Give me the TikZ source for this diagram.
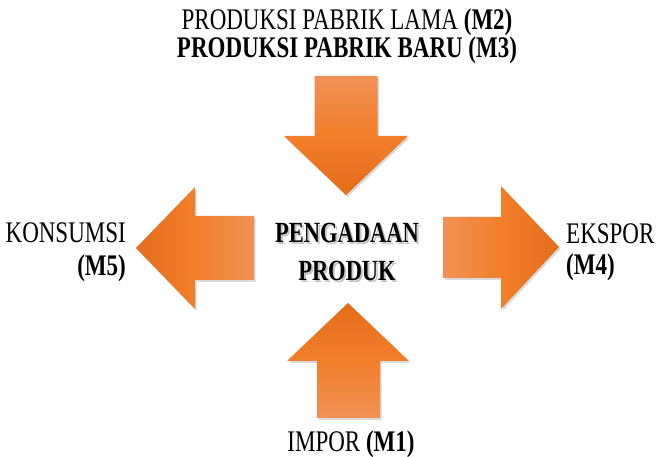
\documentclass[tikz,border=0pt]{standalone}
\usepackage{fontspec}
\setmainfont{Liberation Serif}
\usetikzlibrary{shadows}
\definecolor{olight}{RGB}{241,144,86}
\definecolor{omid}{RGB}{242,127,42}
\definecolor{odark}{RGB}{228,108,26}
\newcommand{\tx}[1]{\scalebox{1}[1.3]{#1}}
\begin{document}
\begin{tikzpicture}[x=1pt,y=-1pt,
  blockarrow/.style={drop shadow={opacity=0.3,shadow xshift=1.5pt,shadow yshift=-2pt}},
  lbl/.style={inner sep=0pt,font=\fontsize{23}{27}\selectfont},
  ctr/.style={inner sep=0pt,font=\fontsize{22.5}{27}\selectfont\bfseries},
  ctrsh/.style={ctr,text=black!50,opacity=0.45}]
\useasboundingbox (0,0) rectangle (657,457);
% down arrow
\path[blockarrow,top color=olight,bottom color=odark,middle color=omid]
  (314.5,76) -- (377.5,76) -- (377.5,136) -- (408,136) -- (346,195) -- (284,136) -- (314.5,136) -- cycle;
% up arrow
\path[blockarrow,bottom color=olight,top color=odark,middle color=omid]
  (317,418) -- (380,418) -- (380,361) -- (409,361) -- (348,303) -- (287,361) -- (317,361) -- cycle;
% left arrow
\path[blockarrow,right color=olight,left color=odark,middle color=omid]
  (254,216) -- (254,280) -- (195,280) -- (195,309) -- (136,248) -- (195,187) -- (195,216) -- cycle;
% right arrow
\path[blockarrow,left color=olight,right color=odark,middle color=omid]
  (443,217) -- (443,278) -- (501,278) -- (501,309) -- (559,247) -- (501,186) -- (501,217) -- cycle;
% labels
\node[lbl,anchor=base] (m2) at (347,30) {\tx{PRODUKSI PABRIK LAMA \textbf{(M2)}}};
\node[lbl,anchor=base] (m3) at (347,58) {\tx{\textbf{PRODUKSI PABRIK BARU (M3)}}};
\node[lbl,anchor=base east] (kons) at (126,243) {\tx{KONSUMSI}};
\node[lbl,anchor=base east] (m5) at (126,276) {\tx{\textbf{(M5)}}};
\node[lbl,anchor=base west] (eks) at (566,244) {\tx{EKSPOR}};
\node[lbl,anchor=base west] (m4) at (566,275) {\tx{\textbf{(M4)}}};
\node[lbl,anchor=base] (m1) at (351,452) {\tx{IMPOR \textbf{(M1)}}};
% center text with soft shadow
\node[ctrsh,anchor=base] (pengsh) at (349,245) {\tx{PENGADAAN}};
\node[ctrsh,anchor=base] (prodsh) at (349,283) {\tx{PRODUK}};
\node[ctr,anchor=base] (peng) at (347,243) {\tx{PENGADAAN}};
\node[ctr,anchor=base] (prod) at (347,281) {\tx{PRODUK}};
\end{tikzpicture}
\end{document}
